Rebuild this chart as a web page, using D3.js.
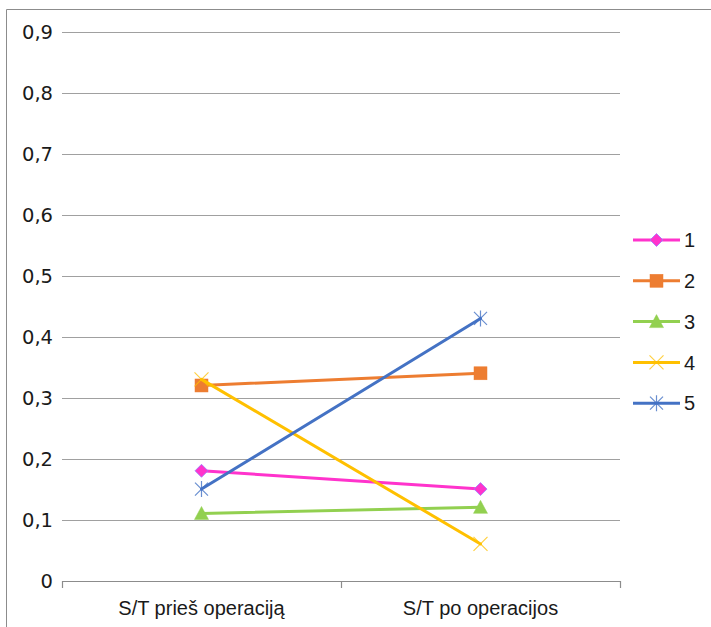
<!DOCTYPE html>
<html>
<head>
<meta charset="utf-8">
<script src="https://cdn.jsdelivr.net/npm/d3@7"></script>
<style>
  html, body { margin: 0; padding: 0; background: #fff; }
  svg { display: block; }
</style>
</head>
<body>
<svg id="chart" width="711" height="627"></svg>
<script>
// Categories (x axis) and the series plotted across them
const categories = ["S/T prieš operaciją", "S/T po operacijos"];
const seriesNames = ["1", "2", "3", "4", "5"];
const series1 = [0.18, 0.15];
const series2 = [0.32, 0.34];
const series3 = [0.11, 0.12];
const series4 = [0.33, 0.06];
const series5 = [0.15, 0.43];
const yTicks = [0, 0.1, 0.2, 0.3, 0.4, 0.5, 0.6, 0.7, 0.8, 0.9];

const colors = ["#FF33CC", "#ED7D31", "#92D050", "#FFC000", "#4472C4"];
const markers = ["diamond", "square", "triangle", "x", "star"];
const allSeries = [series1, series2, series3, series4, series5];

const svg = d3.select("#chart");
const plot = { left: 62, right: 620, top: 32, bottom: 580.5 };

// Outer frame (top and left edges visible)
svg.append("path")
  .attr("d", "M6.5,627 L6.5,9.5 L711,9.5")
  .attr("fill", "none").attr("stroke", "#8c8c8c").attr("stroke-width", 1);

const x = d3.scaleBand().domain(categories).range([plot.left, plot.right]);
const y = d3.scaleLinear().domain([0, 0.9]).range([plot.bottom, plot.top]);

// Horizontal gridlines
svg.append("g").selectAll("line")
  .data(yTicks.filter(d => d > 0))
  .join("line")
  .attr("x1", plot.left).attr("x2", plot.right)
  .attr("y1", d => Math.round(y(d)) + 0.5).attr("y2", d => Math.round(y(d)) + 0.5)
  .attr("stroke", "#a0a0a0").attr("stroke-width", 1);

// Y axis labels
const fmt = d => d === 0 ? "0" : d3.format(".1f")(d).replace(".", ",");
svg.append("g").selectAll("text")
  .data(yTicks)
  .join("text")
  .attr("x", 53)
  .attr("y", d => y(d))
  .attr("dy", "0.36em")
  .attr("text-anchor", "end")
  .attr("font-family", "DejaVu Sans, sans-serif")
  .attr("font-size", 19.5)
  .attr("fill", "#1a1a1a")
  .text(fmt);

// X axis with tick marks at band edges
const xAxis = svg.append("g");
xAxis.append("line")
  .attr("x1", plot.left).attr("x2", plot.right)
  .attr("y1", Math.round(plot.bottom) + 0.5).attr("y2", Math.round(plot.bottom) + 0.5)
  .attr("stroke", "#8c8c8c").attr("stroke-width", 1.2);
const edges = categories.map(c => x(c)).concat([x(categories[categories.length - 1]) + x.bandwidth()]);
xAxis.selectAll("line.tick").data(edges).join("line")
  .attr("class", "tick")
  .attr("x1", d => Math.round(d) + 0.5).attr("x2", d => Math.round(d) + 0.5)
  .attr("y1", Math.round(plot.bottom)).attr("y2", Math.round(plot.bottom) + 7)
  .attr("stroke", "#8c8c8c").attr("stroke-width", 1.2);
xAxis.selectAll("text").data(categories).join("text")
  .attr("x", d => x(d) + x.bandwidth() / 2)
  .attr("y", 615)
  .attr("text-anchor", "middle")
  .attr("font-family", "Liberation Sans Narrow, Arial Narrow, sans-serif")
  .attr("font-size", 20)
  .attr("fill", "#1a1a1a")
  .text(d => d);

// Marker drawing
function drawMarker(g, type, color, cx, cy) {
  if (type === "diamond") {
    g.append("path").attr("d", `M${cx},${cy - 6.5} L${cx + 6.5},${cy} L${cx},${cy + 6.5} L${cx - 6.5},${cy} Z`)
      .attr("fill", color).attr("stroke", "#9a7bff").attr("stroke-width", 0.8);
  } else if (type === "square") {
    g.append("rect").attr("x", cx - 6.5).attr("y", cy - 6.5).attr("width", 13).attr("height", 13)
      .attr("fill", color).attr("stroke", color).attr("stroke-width", 0.5);
  } else if (type === "triangle") {
    g.append("path").attr("d", `M${cx},${cy - 7} L${cx + 7},${cy + 6} L${cx - 7},${cy + 6} Z`)
      .attr("fill", color).attr("stroke", color).attr("stroke-width", 0.5);
  } else if (type === "x") {
    g.append("path").attr("d", `M${cx - 7},${cy - 7} L${cx + 7},${cy + 7} M${cx - 7},${cy + 7} L${cx + 7},${cy - 7}`)
      .attr("stroke", color).attr("stroke-width", 1.2).attr("fill", "none").attr("opacity", 0.75);
  } else if (type === "star") {
    g.append("path").attr("d", `M${cx - 6.5},${cy - 6.5} L${cx + 6.5},${cy + 6.5} M${cx - 6.5},${cy + 6.5} L${cx + 6.5},${cy - 6.5} M${cx},${cy - 8} L${cx},${cy + 8}`)
      .attr("stroke", color).attr("stroke-width", 1.2).attr("fill", "none").attr("opacity", 0.8);
  }
}

const cx = c => x(c) + x.bandwidth() / 2;
const line = d3.line().x((d, i) => cx(categories[i])).y(d => y(d));

// Series lines and markers
allSeries.forEach((vals, si) => {
  const g = svg.append("g");
  g.append("path").datum(vals).attr("d", line)
    .attr("fill", "none").attr("stroke", colors[si]).attr("stroke-width", 3).attr("stroke-linecap", "round");
  vals.forEach((v, i) => drawMarker(g, markers[si], colors[si], cx(categories[i]), y(v)));
});

// Legend
const legend = svg.append("g");
seriesNames.forEach((name, i) => {
  const ly = 240 + i * 40.8;
  const lg = legend.append("g");
  lg.append("line").attr("x1", 633).attr("x2", 680).attr("y1", ly).attr("y2", ly)
    .attr("stroke", colors[i]).attr("stroke-width", 3);
  drawMarker(lg, markers[i], colors[i], 656.5, ly);
  lg.append("text").attr("x", 684).attr("y", ly).attr("dy", "0.36em")
    .attr("font-family", "Liberation Sans Narrow, Arial Narrow, sans-serif")
    .attr("font-size", 20).attr("fill", "#1a1a1a").text(name);
});
</script>
</body>
</html>
